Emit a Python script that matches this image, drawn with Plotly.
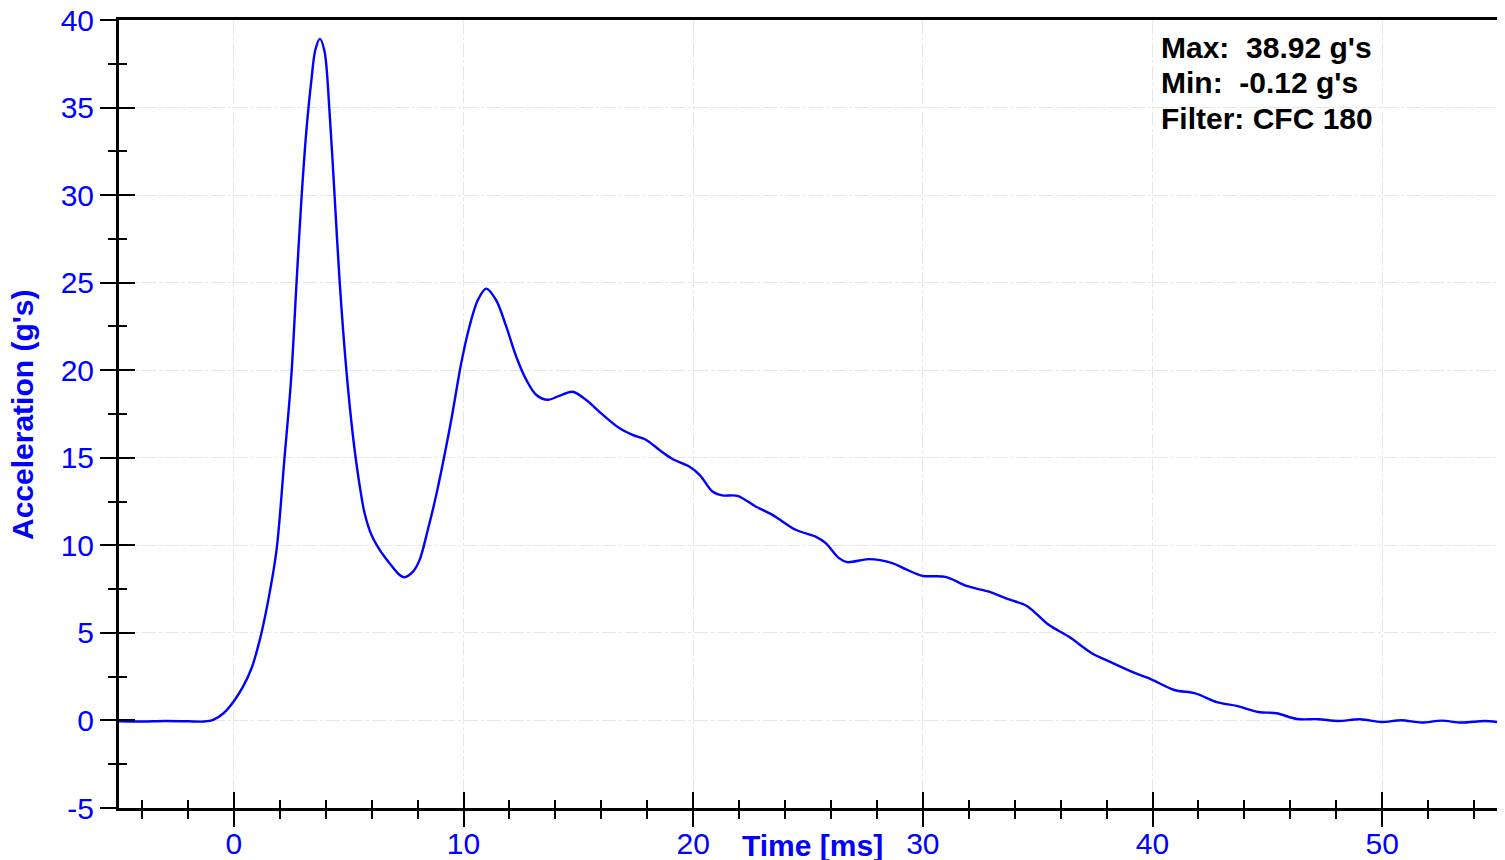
import plotly.graph_objects as go

# ---- data ----
time_ms = [-5.0, -4.0, -3.0, -2.0, -1.3, -0.9, -0.45, 0.0, 0.4, 0.77, 1.13, 1.49, 1.86,
           2.2, 2.5, 2.73, 2.95, 3.16, 3.38, 3.55, 3.75, 3.95, 4.17, 4.39, 4.61, 4.9,
           5.19, 5.48, 5.7, 5.99, 6.35, 6.78, 7.22, 7.43, 7.8, 8.09, 8.45, 8.8, 9.15,
           9.5, 9.9, 10.26, 10.62, 10.99, 11.42, 11.86, 12.29, 12.73, 13.16, 13.67,
           14.17, 14.75, 15.33, 16.06, 16.78, 17.36, 17.94, 18.52, 19.1, 19.83, 20.3,
           20.84, 21.27, 21.93, 22.72, 23.45, 24.46, 25.33, 25.77, 26.35, 26.71, 27.65,
           28.67, 29.25, 29.97, 30.99, 31.9, 32.8, 33.78, 34.53, 35.48, 36.35, 37.36,
           38.23, 39.25, 39.95, 40.95, 41.86, 42.8, 43.67, 44.61, 45.4, 46.3, 47.22,
           48.09, 49.03, 49.97, 50.84, 51.71, 52.58, 53.45, 54.46, 55.0]
accel_g = [-0.05, -0.06, -0.03, -0.05, -0.06, 0.03, 0.41, 1.1, 1.93, 2.98, 4.6, 6.8, 9.74,
           14.9, 19.6, 25.0, 29.9, 33.7, 36.6, 38.3, 38.92, 38.2, 34.7, 29.9, 25.0, 20.0,
           16.2, 13.4, 11.8, 10.6, 9.74, 8.98, 8.31, 8.18, 8.5, 9.17, 10.9, 12.8, 15.0,
           17.4, 20.4, 22.5, 24.0, 24.66, 24.0, 22.5, 20.8, 19.46, 18.6, 18.31,
           18.54, 18.77, 18.31, 17.46, 16.7, 16.31, 16.03, 15.46, 14.93, 14.5, 14.0,
           13.07, 12.85, 12.83, 12.22, 11.74, 10.89, 10.5, 10.13, 9.27, 9.04, 9.21,
           8.98, 8.64, 8.26, 8.2, 7.68, 7.38, 6.9, 6.54, 5.46, 4.79, 3.84,
           3.30, 2.70, 2.35, 1.74, 1.55, 1.05, 0.83, 0.48, 0.41, 0.08, 0.07,
           -0.03, 0.07, -0.09, 0.01, -0.12, -0.01, -0.12, -0.03, -0.09]

x_range = [-5, 55]
y_range = [-5, 40]
x_tick_vals = [0, 10, 20, 30, 40, 50]
x_tick_text = ["0", "10", "20", "30", "40", "50"]
y_tick_vals = [-5, 0, 5, 10, 15, 20, 25, 30, 35, 40]
y_tick_text = ["-5", "0", "5", "10", "15", "20", "25", "30", "35", "40"]
stats_lines = ["Max:\u00a0 38.92 g's", "Min:\u00a0 -0.12 g's", "Filter: CFC 180"]
x_title = "Time [ms]"
y_title = "Acceleration (g's)"

BLUE = "#0000ff"
FONT = "Liberation Sans, Arial, sans-serif"

fig = go.Figure()
fig.add_trace(go.Scatter(
    x=time_ms, y=accel_g, mode="lines",
    line=dict(color=BLUE, width=2.4, shape="spline", smoothing=0.9),
    hoverinfo="skip", showlegend=False))
# invisible copies so the overlaying tick axes (inside half of the cross ticks) are drawn
fig.add_trace(go.Scatter(x=time_ms, y=accel_g, xaxis="x2", yaxis="y", mode="lines",
                         line=dict(width=0), opacity=0, hoverinfo="skip", showlegend=False))
fig.add_trace(go.Scatter(x=time_ms, y=accel_g, xaxis="x", yaxis="y2", mode="lines",
                         line=dict(width=0), opacity=0, hoverinfo="skip", showlegend=False))

grid = dict(showgrid=True, gridcolor="#e6e6e6", gridwidth=1, griddash="14px,3px,3px,3px")
tickstyle = dict(tickwidth=1.5, tickcolor="black")
tfont = dict(family=FONT, size=30, color=BLUE)


def minor(dt, side):
    return dict(tickmode="linear", tick0=0, dtick=dt, ticks=side, ticklen=8,
                tickwidth=1.5, tickcolor="black", showgrid=False)


# the page body adds an 8px offset, so the figure is 8px smaller on each axis
fig.update_layout(
    width=1497, height=852,
    margin=dict(l=111, r=8, t=12, b=52, autoexpand=False),
    paper_bgcolor="white", plot_bgcolor="white",
    font=dict(family=FONT, size=30, color=BLUE),
    xaxis=dict(range=x_range, tickmode="array", tickvals=x_tick_vals, ticktext=x_tick_text,
               ticks="outside", ticklen=16, **tickstyle, minor=minor(2, "outside"),
               showline=True, linewidth=3, linecolor="black", mirror=True, zeroline=False,
               automargin=False, ticklabelstandoff=-9, ticklabeloverflow="allow",
               tickfont=tfont, **grid),
    xaxis2=dict(range=x_range, overlaying="x", anchor="y", side="bottom",
                tickmode="array", tickvals=x_tick_vals, ticks="inside", ticklen=16,
                **tickstyle, minor=minor(2, "inside"), automargin=False,
                showticklabels=False, showgrid=False, showline=False, zeroline=False),
    yaxis=dict(range=y_range, tickmode="array", tickvals=y_tick_vals, ticktext=y_tick_text,
               ticks="outside", ticklen=16, **tickstyle, minor=minor(2.5, "outside"),
               showline=True, linewidth=3, linecolor="black", mirror=True, zeroline=False,
               automargin=False, ticklabelstandoff=0, ticklabeloverflow="allow",
               tickfont=tfont, **grid),
    yaxis2=dict(range=y_range, overlaying="y", anchor="x", side="left",
                tickmode="array", tickvals=y_tick_vals, ticks="inside", ticklen=16,
                **tickstyle, minor=minor(2.5, "inside"), automargin=False,
                showticklabels=False, showgrid=False, showline=False, zeroline=False),
)

# stats box text
line_y = [0.9657, 0.9201, 0.8744]
for txt, yy in zip(stats_lines, line_y):
    fig.add_annotation(text="<b>" + txt + "</b>", xref="paper", yref="paper",
                       x=0.7547, y=yy, xanchor="left", yanchor="middle", showarrow=False,
                       font=dict(family=FONT, size=30, color="black"))

# axis titles
fig.add_annotation(text="<b>" + x_title + "</b>", xref="paper", yref="paper",
                   x=0.5036, y=-0.047, xanchor="center", yanchor="middle", showarrow=False,
                   font=dict(family=FONT, size=30, color=BLUE))
fig.add_annotation(text="<b>" + y_title + "</b>", xref="paper", yref="paper",
                   x=-0.0704, y=0.5, xanchor="center", yanchor="middle", showarrow=False,
                   textangle=-90, font=dict(family=FONT, size=30, color=BLUE))

fig.write_html("out.html")
